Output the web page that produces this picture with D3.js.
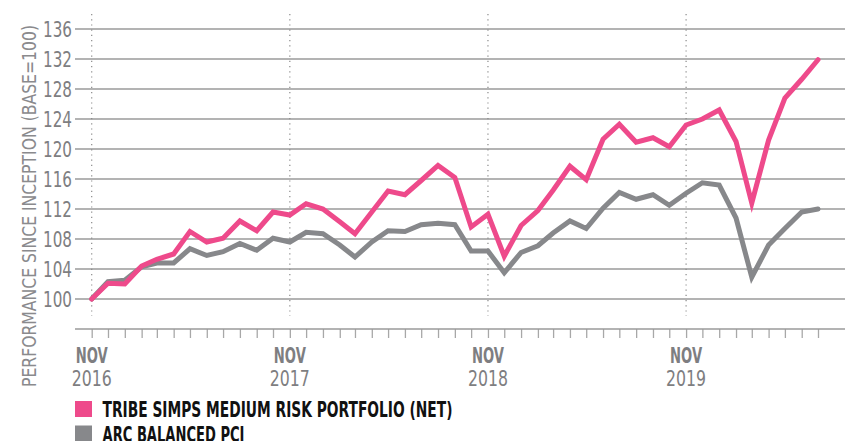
<!DOCTYPE html>
<html><head><meta charset="utf-8">
<script src="https://cdn.jsdelivr.net/npm/d3@7"></script>
<style>
html,body{margin:0;padding:0;background:#fff;}
svg{display:block;}
text{font-family:"DejaVu Sans Condensed","Liberation Sans Narrow","Roboto",sans-serif;}
</style></head>
<body><svg id="c" width="845" height="441"></svg>
<script>
// ---- data ----
const months = d3.utcMonths(new Date(Date.UTC(2016,10,1)), new Date(Date.UTC(2020,7,1)));
const tribe = [100.0,102.1,102.0,104.4,105.3,106.0,109.0,107.6,108.1,110.4,109.1,111.6,
  111.2,112.7,112.0,110.3,108.7,111.6,114.4,113.9,115.8,117.8,116.2,109.6,
  111.3,105.7,109.8,111.8,114.5,117.7,115.9,121.3,123.3,120.9,121.5,120.3,
  123.2,124.0,125.2,121.0,112.8,121.2,126.8,129.3,131.9];
const arc = [100.0,102.3,102.5,104.3,104.8,104.8,106.7,105.8,106.3,107.4,106.5,108.1,
  107.6,108.9,108.7,107.2,105.6,107.6,109.1,109.0,109.9,110.1,109.9,106.4,
  106.4,103.5,106.2,107.1,108.8,110.4,109.4,112.1,114.2,113.3,113.9,112.5,
  114.1,115.5,115.2,110.8,102.9,107.2,109.4,111.6,112.0];
const yTicks = [100,104,108,112,116,120,124,128,132,136];
const seriesNames = ["TRIBE SIMPS MEDIUM RISK PORTFOLIO (NET)","ARC BALANCED PCI"];
const seriesColors = ["#ee4a8b","#87888b"];
const yTitle = "PERFORMANCE SINCE INCEPTION (BASE=100)";

const svg = d3.select("#c");
const x = d3.scaleUtc().domain([months[0], months[months.length-1]]).range([91.7, 818]);
const y = d3.scaleLinear().domain([100,136]).range([299,29]);
const gridL = 75, gridR = 845, axisY = 329;

// gridlines
svg.append("g").selectAll("line").data(yTicks).join("line")
  .attr("x1",gridL).attr("x2",gridR).attr("y1",d=>y(d)).attr("y2",d=>y(d))
  .attr("stroke","#9a9a9a").attr("stroke-width",1.3);

// y labels
svg.append("g").selectAll("text").data(yTicks).join("text")
  .attr("x",72).attr("y",d=>y(d)).attr("dy","0.36em").attr("text-anchor","end")
  .attr("fill","#7e7e81").attr("font-size",21).attr("font-weight","500")
  .attr("textLength",29).attr("lengthAdjust","spacingAndGlyphs").text(d=>d);

// y title
svg.append("text").attr("transform","translate(35.5,206) rotate(-90)")
  .attr("text-anchor","middle").attr("fill","#8a8a8d").attr("font-size",20)
  .attr("textLength",362).attr("lengthAdjust","spacingAndGlyphs").text(yTitle);

// Nov dotted verticals
const novs = months.filter(d=>d.getUTCMonth()===10);
svg.append("g").selectAll("line").data(novs).join("line")
  .attr("x1",d=>x(d)).attr("x2",d=>x(d)).attr("y1",14).attr("y2",316)
  .attr("stroke","#8a8a8a").attr("stroke-width",1.2).attr("stroke-dasharray","1.2,4");

// x axis
const xAxis = svg.append("g").attr("transform",`translate(0,${axisY})`)
  .call(d3.axisBottom(x).tickValues(months).tickSize(9).tickFormat(""));
xAxis.select(".domain").remove();
xAxis.selectAll(".tick line").attr("stroke","#a8a8a8").attr("stroke-width",1.3);
svg.append("line").attr("x1",gridL).attr("x2",gridR).attr("y1",axisY).attr("y2",axisY)
  .attr("stroke","#9a9a9a").attr("stroke-width",1.3);

const fmtM = d3.utcFormat("%b"), fmtY = d3.utcFormat("%Y");
const xg = svg.append("g").selectAll("g").data(novs).join("g");
xg.append("text").attr("x",d=>x(d)).attr("y",363).attr("text-anchor","middle")
  .attr("fill","#7e7e81").attr("font-size",21).attr("font-weight","bold")
  .attr("textLength",32).attr("lengthAdjust","spacingAndGlyphs")
  .text(d=>fmtM(d).toUpperCase());
xg.append("text").attr("x",d=>x(d)).attr("y",385.5).attr("text-anchor","middle")
  .attr("fill","#7e7e81").attr("font-size",21).attr("font-weight","500")
  .attr("textLength",40).attr("lengthAdjust","spacingAndGlyphs")
  .text(d=>fmtY(d));

// lines
const line = d3.line().x((d,i)=>x(months[i])).y(d=>y(d));
[[arc,seriesColors[1]],[tribe,seriesColors[0]]].forEach(([s,c])=>{
  svg.append("path").datum(s).attr("d",line).attr("fill","none")
    .attr("stroke",c).attr("stroke-width",5)
    .attr("stroke-linejoin","miter").attr("stroke-linecap","round");
});

// legend
const legendW = [350,142];
const lg = svg.append("g").selectAll("g").data(seriesNames).join("g")
  .attr("transform",(d,i)=>`translate(75,${401+i*24.5})`);
lg.append("rect").attr("width",17).attr("height",16).attr("fill",(d,i)=>seriesColors[i]);
lg.append("text").attr("x",27.5).attr("y",16).attr("font-size",21).attr("font-weight","bold")
  .attr("fill","#111").attr("textLength",(d,i)=>legendW[i]).attr("lengthAdjust","spacingAndGlyphs")
  .text(d=>d);
</script></body></html>
